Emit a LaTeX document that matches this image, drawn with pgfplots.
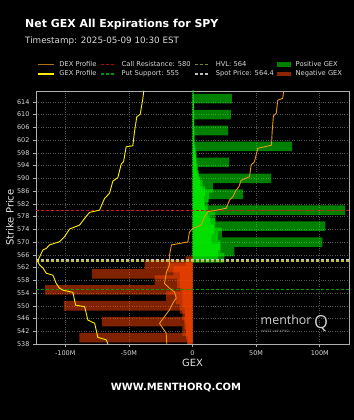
\documentclass[border=0pt]{standalone}
\usepackage{fontspec}
\setmainfont{DejaVu Sans}
\newfontfamily\wmfont{Open Sans}
\usepackage{pgfplots}
\pgfplotsset{compat=1.18}
\definecolor{lime}{RGB}{0,255,0}
\definecolor{orred}{RGB}{255,69,0}
\definecolor{dexc}{RGB}{235,150,20}
\definecolor{gexc}{RGB}{255,240,0}
\definecolor{callc}{RGB}{215,20,20}
\definecolor{putc}{RGB}{0,160,0}
\definecolor{hvlc}{RGB}{190,190,70}
\definecolor{spotc}{RGB}{200,200,200}
\definecolor{gridc}{RGB}{85,85,85}
\definecolor{framec}{RGB}{175,175,175}
\definecolor{tickc}{RGB}{215,215,215}
\definecolor{ldex}{RGB}{175,112,25}
\definecolor{lcall}{RGB}{180,10,10}
\definecolor{lput}{RGB}{0,150,0}
\definecolor{lhvl}{RGB}{130,130,35}
\definecolor{lspot}{RGB}{190,190,190}
\definecolor{lpos}{RGB}{0,128,0}
\definecolor{lneg}{RGB}{140,36,0}
\begin{document}
\begin{tikzpicture}
\fill[black] (0,0) rectangle (354bp,420bp);
\node[anchor=base west, text=white, font=\bfseries\fontsize{11}{13}\selectfont, inner sep=0] at (25bp,392.8bp) {Net GEX All Expirations for SPY};
\node[anchor=base west, text=white!85!black, font=\fontsize{8.8}{10}\selectfont, inner sep=0] at (25bp,376bp) {Timestamp: 2025-05-09 10:30 EST};
\begin{axis}[
  at={(36bp,76bp)}, anchor=south west,
  scale only axis, width=313bp, height=253bp,
  xmin=-123, xmax=123, ymin=538, ymax=617.4,
  axis background/.style={fill=black},
  axis line style={framec, line width=0.6bp},
  tick pos=left, tick align=outside, major tick length=3bp,
  tick style={framec, line width=0.5bp},
  xtick={-100,-50,0,50,100},
  xticklabels={-100M,-50M,0,50M,100M},
  ytick={538,542,...,614},
  /pgf/number format/assume math mode=true,
  tick label style={font=\fontsize{6.5}{7}\selectfont, text=tickc},
  grid=major,
  major grid style={gridc, dotted, line width=0.5bp},
  xlabel={GEX}, ylabel={Strike Price},
  label style={text=white!90!black, font=\fontsize{10}{12}\selectfont},
  xlabel style={at={(axis description cs:0.5,-0.074)}, anchor=center},
  ylabel style={at={(axis description cs:-0.083,0.5)}, anchor=center},
  legend columns=4,
  legend cell align=left,
  legend image code/.code={\draw[#1] (0bp,0bp) -- (15.4bp,0bp);},
  legend style={at={(axis description cs:0,1)}, anchor=south west, xshift=1.3bp, yshift=13.5bp,
    draw=none, fill=none, text=white!85!black, font=\fontsize{6.75}{7}\selectfont,
    inner sep=0pt, row sep=3.2bp,
    /tikz/every odd column/.append style={column sep=5bp},
    /tikz/every even column/.append style={column sep=3.3bp},
    nodes={inner sep=0pt, text height=5bp, text depth=1.5bp}},
]
% ---- positive GEX (three interleaved groups so overlaps stack) ----
\addplot[xbar, bar width=3, bar shift=0pt, draw=none, fill=lime, fill opacity=0.5, forget plot] coordinates {
(33,567) (102,570) (23,573) (18,576) (12,579) (12,582) (39.8,585) (8,588) (5,591) (3,594) (3,597) (78.3,600) (1.5,603) (1.2,606) (1.2,609) (1,612) (30.9,615)};
\addplot[xbar, bar width=3, bar shift=0pt, draw=none, fill=lime, fill opacity=0.5, forget plot] coordinates {
(25,565) (22,568) (15,571) (17,574) (14,577) (120,580) (9,583) (10,586) (6,589) (4,592) (28.8,595) (2.5,598) (1.5,601) (1.5,604) (1.2,607) (30.1,610) (1,613) (0.8,616)};
\addplot[xbar, bar width=3, bar shift=0pt, draw=none, fill=lime, fill opacity=0.5, forget plot] coordinates {
(20,566) (22,569) (20,572) (104.5,575) (18,578) (10,581) (13,584) (16,587) (61.8,590) (4,593) (3,596) (2,599) (1.5,602) (28,605) (1.2,608) (1,611) (1,614) (0.8,617)};
% ---- negative GEX ----
\addplot[xbar, bar width=3, bar shift=0pt, draw=none, fill=orred, fill opacity=0.5, forget plot] coordinates {
(-5.5,564) (-15,561) (-29.8,558) (-116,555) (-12.8,552) (-10,549) (-6,546) (-5,543) (-89,540)};
\addplot[xbar, bar width=3, bar shift=0pt, draw=none, fill=orred, fill opacity=0.5, forget plot] coordinates {
(-19.6,562) (-10,559) (-10,556) (-20.7,553) (-101,550) (-8,547) (-6.3,544) (-5,541) (-4,538)};
\addplot[xbar, bar width=3, bar shift=0pt, draw=none, fill=orred, fill opacity=0.5, forget plot] coordinates {
(-37.7,563) (-79,560) (-12,557) (-8,554) (-8,551) (-6,548) (-71,545) (-8,542) (-4,539)};
% ---- reference levels ----
\addplot[callc, line width=0.9bp, dash pattern=on 3bp off 2bp, forget plot] coordinates {(-123,580) (123,580)};
\addplot[putc, line width=0.9bp, dash pattern=on 3bp off 2bp, forget plot] coordinates {(-123,555) (123,555)};
\addplot[hvlc, line width=1.4bp, dash pattern=on 3bp off 2bp, forget plot] coordinates {(-123,564) (123,564)};
\addplot[spotc, line width=0.9bp, dash pattern=on 3bp off 2bp, forget plot] coordinates {(-123,564.4) (123,564.4)};
% ---- GEX profile ----
\addplot[gexc, line width=0.9bp, forget plot] coordinates {
(-38.3,617.4) (-39.0,615.1) (-41.1,610.1) (-43.8,609.3) (-45.6,604.6) (-46.9,600.2) (-52.1,599.9) (-54.2,595.2) (-56.0,594.5) (-58.7,590.2) (-62.6,589.1) (-65.2,585.3) (-69.1,583.7) (-73.1,580.0) (-80.9,579.3) (-84.8,577.4) (-88.8,575.3) (-96.6,574.1) (-100.5,571.7) (-104.5,570.1) (-112.3,569.1) (-114.9,568.0) (-117.6,567.5) (-120.7,564.9) (-121.5,563.8) (-120.2,562.8) (-117.6,561.9) (-114.9,560.2) (-109.7,559.6) (-107.1,557.0) (-104.5,555.5) (-101.9,554.9) (-94.0,554.2) (-91.9,550.2) (-84.8,549.7) (-82.2,545.5) (-76.9,544.5) (-74.4,540.1) (-67.8,539.3) (-66.5,538)};
% ---- DEX profile ----
\addplot[dexc, line width=0.9bp, forget plot] coordinates {
(71.7,617.4) (70.9,615.1) (67.0,614.5) (65.8,610.4) (63.6,609.6) (62.6,604.6) (62.1,600.4) (51.3,599.4) (48.7,595.2) (46.1,594.2) (44.8,590.5) (38.3,589.4) (36.4,587.3) (34.3,586.3) (31.7,584.2) (29.1,583.2) (26.5,580.6) (12.0,579.5) (9.4,577.9) (6.8,575.3) (0.2,574.3) (-2.4,573.1) (-3.7,570.0) (-16.5,569.1) (-18.1,565.9) (-18.1,562.8) (-20.4,560.6) (-22.0,557.0) (-18.1,555.5) (-14.1,554.3) (-12.8,552.4) (-15.5,550.8) (-18.1,548.7) (-22.0,546.6) (-25.9,544.5) (-20.7,541.4) (-20.2,538)};
% ---- legend (row-wise order) ----
\addlegendimage{ldex, line width=1.5bp}\addlegendentry{DEX Profile}
\addlegendimage{lcall, line width=1.5bp, dash pattern=on 3.2bp off 2bp}\addlegendentry{Call Resistance: 580}
\addlegendimage{lhvl, line width=1.5bp, dash pattern=on 3.2bp off 2bp}\addlegendentry{HVL: 564}
\addlegendimage{legend image code/.code={\fill[draw=none, lpos] (0bp,-2.4bp) rectangle (13.4bp,2.4bp);}}\addlegendentry{Positive GEX}
\addlegendimage{gexc, line width=1.5bp}\addlegendentry{GEX Profile}
\addlegendimage{lput, line width=1.5bp, dash pattern=on 3.2bp off 2bp}\addlegendentry{Put Support: 555}
\addlegendimage{lspot, line width=1.5bp, dash pattern=on 3.2bp off 2bp}\addlegendentry{Spot Price: 564.4}
\addlegendimage{legend image code/.code={\fill[draw=none, lneg] (0bp,-2.4bp) rectangle (13.4bp,2.4bp);}}\addlegendentry{Negative GEX}
\end{axis}
% watermark
\node[anchor=base west, text=white!80!black, font=\wmfont\fontsize{12.5}{13}\selectfont, inner sep=0] at (260.5bp,95bp) {menthor};
\node[anchor=base west, text=white!80!black, font=\wmfont\fontsize{18}{18}\selectfont, inner sep=0] at (314bp,91.5bp) {Q};
\node[anchor=base west, text=white!65!black, font=\wmfont\fontsize{3.2}{4}\selectfont, inner sep=0] at (261bp,87bp) {INVEST LIKE A PRO};
% footer
\node[text=white, font=\bfseries\fontsize{10}{12}\selectfont, inner sep=0] at (176bp,32.3bp) {WWW.MENTHORQ.COM};
\pgfresetboundingbox
\useasboundingbox (0,0) rectangle (354bp,420bp);
\end{tikzpicture}
\end{document}
